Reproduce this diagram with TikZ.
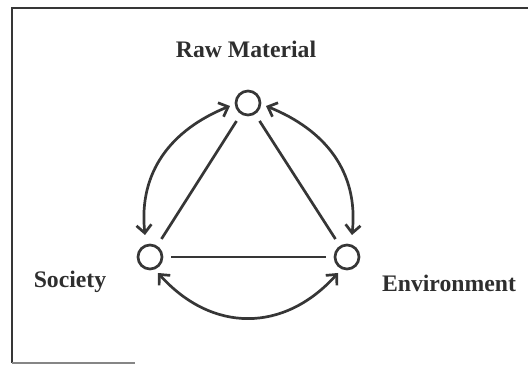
\documentclass[tikz,border=0pt]{standalone}
\usepackage{fontspec}
\setmainfont{Liberation Serif}
\usetikzlibrary{arrows.meta}
\definecolor{ink}{HTML}{363636}
\definecolor{txt}{HTML}{2E2E2E}
\tikzset{
  dot/.style={circle,draw=ink,line width=2.7pt,minimum size=24pt,inner sep=0pt},
  link/.style={draw=ink,line width=2.7pt,shorten <=8pt,shorten >=8pt},
  cyc/.style={draw=ink,line width=2.7pt,{Straight Barb[length=8pt,width=15pt]}-{Straight Barb[length=8pt,width=15pt]}},
  lbl/.style={text=txt,font=\bfseries\fontsize{23.7}{28}\selectfont,anchor=base,inner sep=0pt},
  frame/.style={draw=ink,line width=1.3pt}
}
\begin{document}
\begin{tikzpicture}[x=1pt,y=1pt]
\useasboundingbox (0,0) rectangle (528,366);
% frame
\coordinate (fbl) at (12,3);
\coordinate (ftl) at (12,358);
\coordinate (ftr) at (528,358);
\coordinate (fbr) at (135,3);
\draw[frame] (fbl) -- (ftl) -- (ftr);
\draw[frame,draw=ink!60] (fbl) -- (fbr);
% nodes
\node[dot] (top) at (248,263) {};
\node[dot] (left) at (150,109) {};
\node[dot] (right) at (347,109) {};
% labels
\node[lbl] (raw) at (246,308) {Raw Material};
\node[lbl] (soc) at (70,78) {Society};
\node[lbl] (env) at (449,74) {Environment};
% triangle
\draw[link] (top) -- (left);
\draw[link] (top) -- (right);
\draw[link] (left) -- (right);
% arc end points beside the circles
\coordinate (tl) at (230,260);
\coordinate (lt) at (145,131);
\coordinate (tr) at (266,260);
\coordinate (rt) at (352,131);
\coordinate (lb) at (158,93);
\coordinate (rb) at (338,93);
% cycle arcs
\draw[cyc] (tl) to[out=202,in=96,looseness=1.05] (lt);
\draw[cyc] (tr) to[out=-22,in=84,looseness=1.05] (rt);
\draw[cyc] (lb) to[out=-48,in=228,looseness=1.15] (rb);
\end{tikzpicture}
\end{document}
